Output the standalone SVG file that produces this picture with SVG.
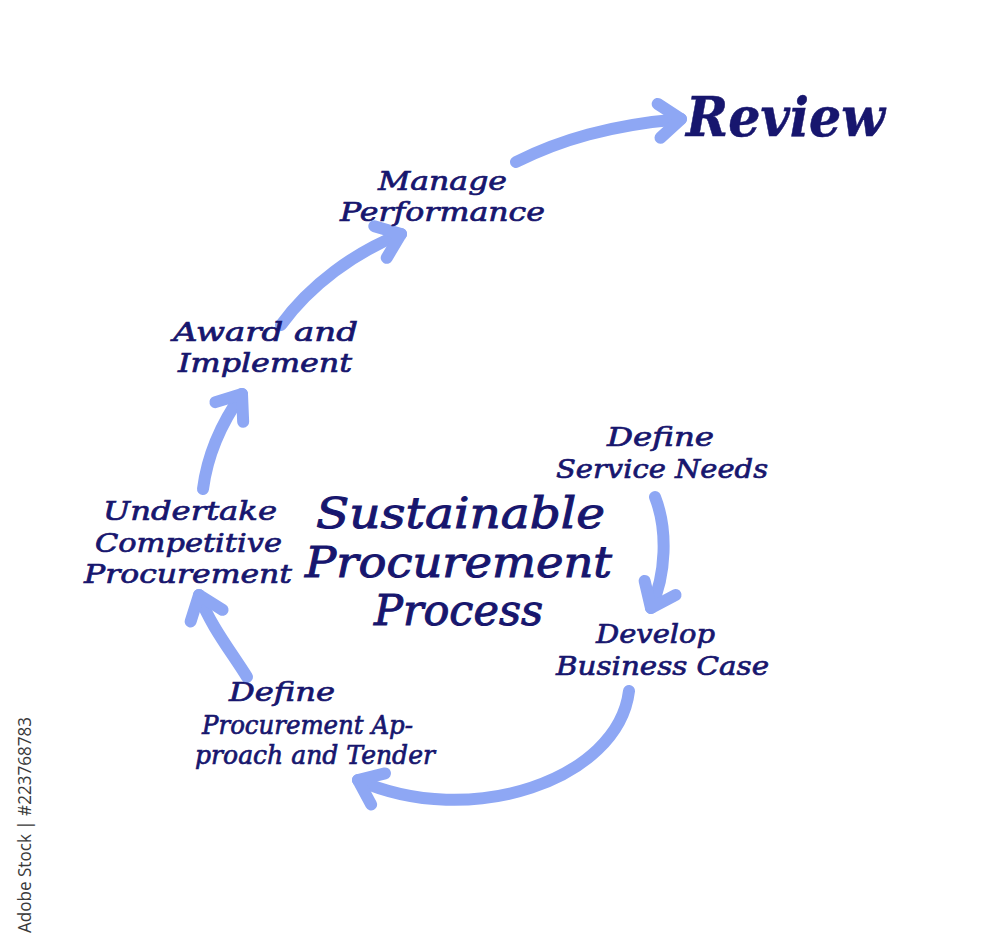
<svg xmlns="http://www.w3.org/2000/svg" width="1000" height="952" viewBox="0 0 1000 952">
<style>
.t{font-family:"DejaVu Serif","Liberation Serif",serif;font-style:italic;fill:#17166e;stroke:#17166e;stroke-width:0.7;font-size:26px}
.title{font-size:42px;stroke-width:1}
.rev{font-size:54px;font-weight:bold;stroke-width:0.5}
.arr{fill:none;stroke:#8ea7f4;stroke-width:12;stroke-linecap:round;stroke-linejoin:round}
.wm{font-family:"Open Sans","Liberation Sans",sans-serif;font-size:18px;fill:#3a3a3a}
</style>
<defs>
<marker id="head" markerUnits="userSpaceOnUse" orient="auto" refX="0" refY="0" markerWidth="60" markerHeight="60" viewBox="-40 -30 60 60" overflow="visible">
<path d="M-22,-17 L0,0 L-22,17" fill="none" stroke="#8ea7f4" stroke-width="12" stroke-linecap="round" stroke-linejoin="round"/>
</marker>
</defs>
<rect width="1000" height="952" fill="#ffffff"/>
<g id="connectors">
<path class="arr" d="M655,497 C668,530 666,575 651,608" marker-end="url(#head)"/>
<path class="arr" d="M629,691 C618,780 470,830 358,780" marker-end="url(#head)"/>
<path class="arr" d="M247,677 C230,650 210,625 199,595" marker-end="url(#head)"/>
<path class="arr" d="M203,489 C208,450 225,418 242,394" marker-end="url(#head)"/>
<path class="arr" d="M281,325 C310,285 355,252 401,234" marker-end="url(#head)"/>
<path class="arr" d="M516,162 C560,140 610,125 681,119" marker-end="url(#head)"/>
</g>
<g id="review"><text class="t rev" x="686" y="136" textLength="199" lengthAdjust="spacingAndGlyphs">Review</text></g>
<g id="manage-performance">
<text class="t" x="378" y="190" textLength="129" lengthAdjust="spacingAndGlyphs">Manage</text>
<text class="t" x="340" y="221" textLength="205" lengthAdjust="spacingAndGlyphs">Performance</text>
</g>
<g id="award-implement">
<text class="t" x="173" y="341" textLength="185" lengthAdjust="spacingAndGlyphs">Award and</text>
<text class="t" x="178" y="372" textLength="174" lengthAdjust="spacingAndGlyphs">Implement</text>
</g>
<g id="undertake">
<text class="t" x="103" y="520" textLength="174" lengthAdjust="spacingAndGlyphs">Undertake</text>
<text class="t" x="95" y="552" textLength="187" lengthAdjust="spacingAndGlyphs">Competitive</text>
<text class="t" x="84" y="583" textLength="208" lengthAdjust="spacingAndGlyphs">Procurement</text>
</g>
<g id="center-title">
<text class="t title" x="316" y="528" textLength="289" lengthAdjust="spacingAndGlyphs">Sustainable</text>
<text class="t title" x="305" y="577" textLength="307" lengthAdjust="spacingAndGlyphs">Procurement</text>
<text class="t title" x="374" y="625" textLength="169" lengthAdjust="spacingAndGlyphs">Process</text>
</g>
<g id="define-service-needs">
<text class="t" x="607" y="446" textLength="107" lengthAdjust="spacingAndGlyphs">Define</text>
<text class="t" x="556" y="478" textLength="212" lengthAdjust="spacingAndGlyphs">Service Needs</text>
</g>
<g id="develop-business-case">
<text class="t" x="596" y="643" textLength="119" lengthAdjust="spacingAndGlyphs">Develop</text>
<text class="t" x="556" y="675" textLength="213" lengthAdjust="spacingAndGlyphs">Business Case</text>
</g>
<g id="define-procurement-approach">
<text class="t" x="229" y="701" textLength="106" lengthAdjust="spacingAndGlyphs">Define</text>
<text class="t" x="202" y="734" textLength="211" lengthAdjust="spacingAndGlyphs">Procurement Ap-</text>
<text class="t" x="195" y="764" textLength="240" lengthAdjust="spacingAndGlyphs">proach and Tender</text>
</g>
<g id="watermark"><text class="wm" transform="translate(31,933) rotate(-90)" textLength="216" lengthAdjust="spacingAndGlyphs">Adobe Stock | #223768783</text></g>
</svg>
